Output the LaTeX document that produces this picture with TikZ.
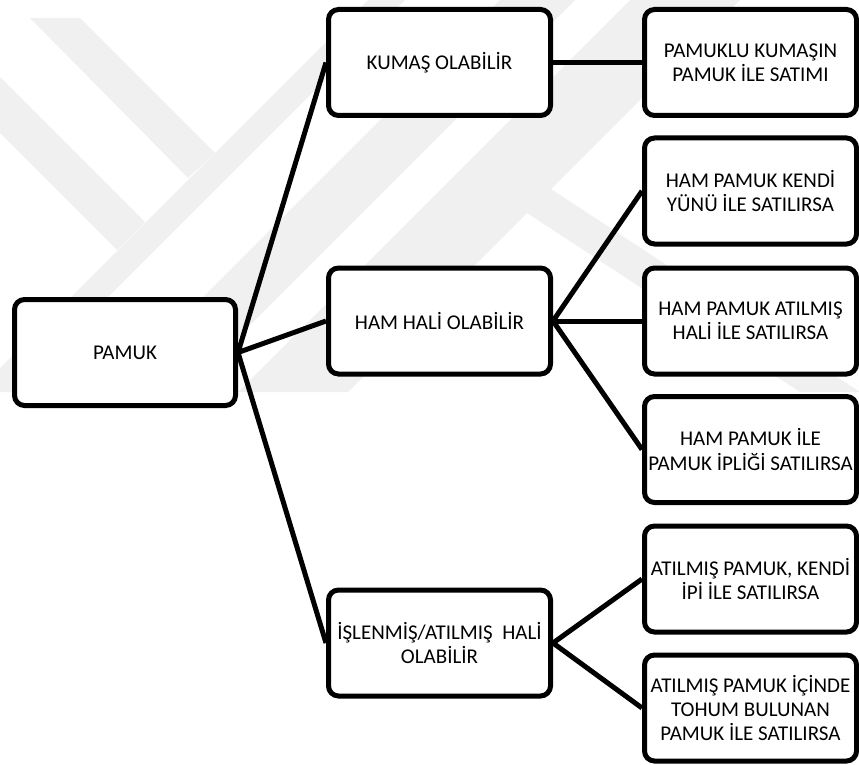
\documentclass[tikz,border=0pt]{standalone}
\usepackage{fontspec}
\setmainfont{Carlito}
\begin{document}
\begin{tikzpicture}[x=1pt,y=-1pt,
  box/.style={draw=black,line width=5pt,rounded corners=10pt,fill=white,
    minimum height=106pt,inner sep=0pt,align=center,
    font=\fontsize{21}{24.3}\selectfont},
  leftbox/.style={box,minimum width=221pt},
  midbox/.style={box,minimum width=222pt},
  rightbox/.style={box,minimum width=212pt},
  conn/.style={draw=black,line width=5pt},
  wm/.style={fill=black!6,draw=none}]
\useasboundingbox (0,0) rectangle (859,765);
% watermark
\begin{scope}
\clip (0,0) rectangle (859,765);
\fill[wm] (30,18) -- (80,18) -- (215,153) -- (188,178) -- cycle;
\fill[wm] (-5,72) -- (-5,128) -- (117,250) -- (145,222) -- cycle;
\fill[wm] (368,0) -- (405,0) -- (13,392) -- (-24,392) -- cycle;
\fill[wm] (500,0) -- (575,0) -- (183,392) -- (108,392) -- cycle;
\fill[wm] (630,0) -- (740,0) -- (348,392) -- (238,392) -- cycle;
\fill[wm] (551,189) -- (860,392) -- (800,392) -- (527,213) -- cycle;
\end{scope}
% nodes
\node[leftbox] (pamuk) at (125,352.5) {PAMUK};
\node[midbox] (kumas) at (439.5,62.5) {KUMAŞ OLABİLİR};
\node[midbox] (hamhali) at (439.5,321) {HAM HALİ OLABİLİR};
\node[midbox] (islenmis) at (439.5,643) {İŞLENMİŞ/ATILMIŞ\ \ HALİ\\OLABİLİR};
\node[rightbox] (r1) at (750.5,62.5) {PAMUKLU KUMAŞIN\\PAMUK İLE SATIMI};
\node[rightbox] (r2) at (750.5,191) {HAM PAMUK KENDİ\\YÜNÜ İLE SATILIRSA};
\node[rightbox] (r3) at (750.5,321) {HAM PAMUK ATILMIŞ\\HALİ İLE SATILIRSA};
\node[rightbox] (r4) at (750.5,449.5) {HAM PAMUK İLE\\PAMUK İPLİĞİ SATILIRSA};
\node[rightbox] (r5) at (750.5,579) {ATILMIŞ PAMUK, KENDİ\\İPİ İLE SATILIRSA};
\node[rightbox] (r6) at (750.5,708) {ATILMIŞ PAMUK İÇİNDE\\TOHUM BULUNAN\\PAMUK İLE SATILIRSA};
% connectors
\draw[conn] (pamuk.east) -- (kumas.west);
\draw[conn] (pamuk.east) -- (hamhali.west);
\draw[conn] (pamuk.east) -- (islenmis.west);
\draw[conn] (kumas.east) -- (r1.west);
\draw[conn] (hamhali.east) -- (r2.west);
\draw[conn] (hamhali.east) -- (r3.west);
\draw[conn] (hamhali.east) -- (r4.west);
\draw[conn] (islenmis.east) -- (r5.west);
\draw[conn] (islenmis.east) -- (r6.west);
\end{tikzpicture}
\end{document}
